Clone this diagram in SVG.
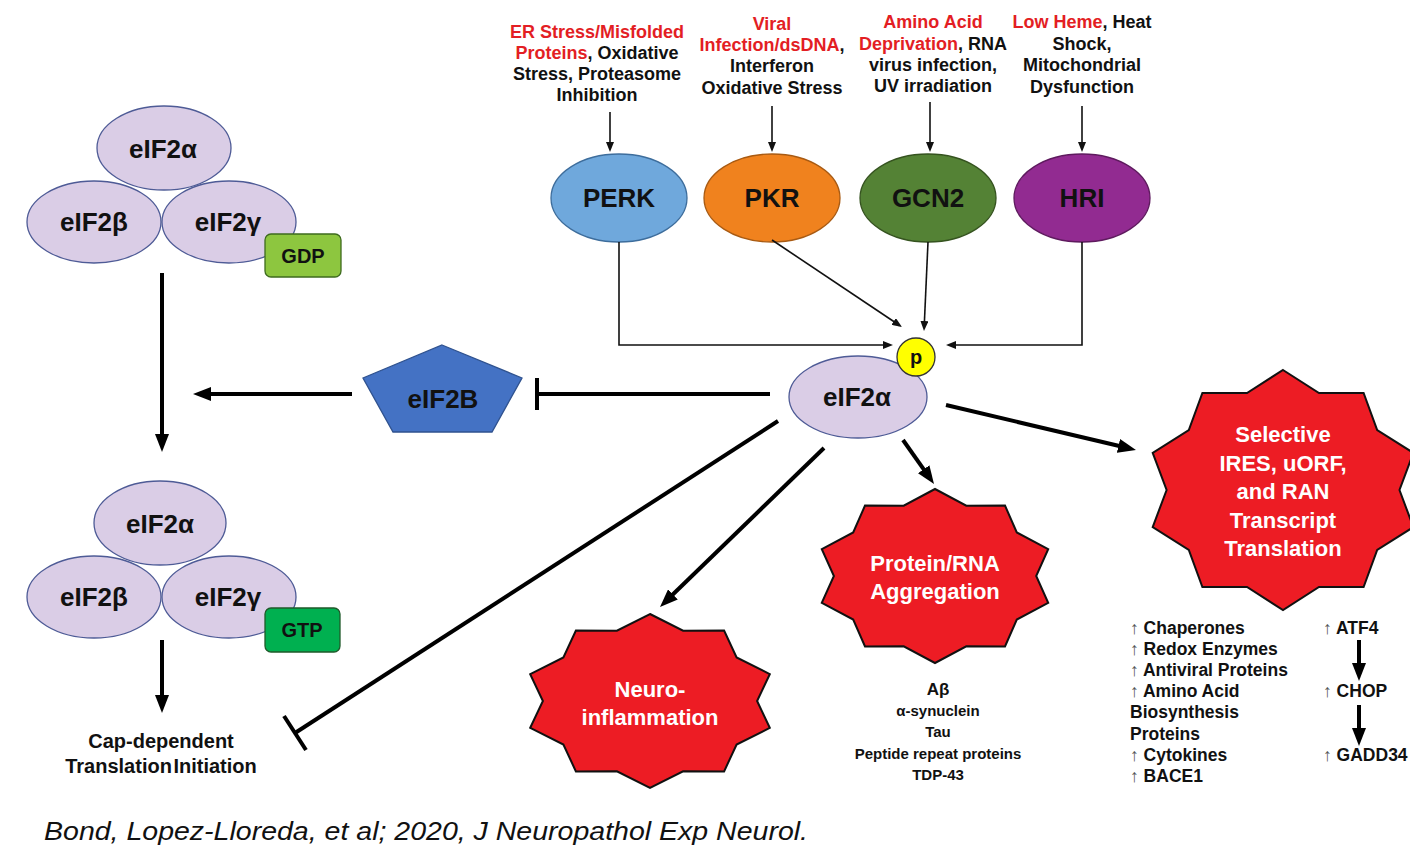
<svg xmlns="http://www.w3.org/2000/svg" width="1410" height="853" viewBox="0 0 1410 853">
<style>
text{font-family:"Liberation Sans",Arial,sans-serif;font-weight:bold;fill:#111;text-anchor:middle}
.top{font-size:18px}
.red{fill:#e31e24}
.sub{fill:#dacde6;stroke:#4e5b96;stroke-width:1.3}
.lbl{font-size:26px}
.star{fill:#ed1c24;stroke:#111;stroke-width:2;stroke-linejoin:miter}
.wt{fill:#fff;font-size:22px}
.thin{stroke:#111;stroke-width:1.6;fill:none}
.thick{stroke:#000;stroke-width:4;fill:none}
.lst{font-size:17.5px;text-anchor:start}
.up{font-weight:normal;fill:#555}
.agg{font-size:15px}
.cite{font-family:"Liberation Sans",Arial,sans-serif;font-style:italic;font-weight:normal;font-size:25px;text-anchor:start;fill:#111}
</style>
<defs>
<marker id="ah" viewBox="0 0 10 8" refX="1" refY="4" markerWidth="10" markerHeight="8" markerUnits="userSpaceOnUse" orient="auto"><path d="M0,0 L10,4 L0,8 z" fill="#111"/></marker>
<marker id="AH" viewBox="0 0 18 14" refX="2" refY="7" markerWidth="18" markerHeight="14" markerUnits="userSpaceOnUse" orient="auto"><path d="M0,0 L18,7 L0,14 z" fill="#000"/></marker>
</defs>
<rect width="1410" height="853" fill="#fff"/>

<g id="stress-perk">
<text class="top" x="597" y="38"><tspan class="red">ER Stress/Misfolded</tspan></text>
<text class="top" x="597" y="59"><tspan class="red">Proteins</tspan>, Oxidative</text>
<text class="top" x="597" y="80">Stress, Proteasome</text>
<text class="top" x="597" y="101">Inhibition</text>
</g>
<g id="stress-pkr">
<text class="top" x="772" y="30"><tspan class="red">Viral</tspan></text>
<text class="top" x="772" y="51"><tspan class="red">Infection/dsDNA</tspan>,</text>
<text class="top" x="772" y="72">Interferon</text>
<text class="top" x="772" y="94">Oxidative Stress</text>
</g>
<g id="stress-gcn2">
<text class="top" x="933" y="28"><tspan class="red">Amino Acid</tspan></text>
<text class="top" x="933" y="50"><tspan class="red">Deprivation</tspan>, RNA</text>
<text class="top" x="933" y="71">virus infection,</text>
<text class="top" x="933" y="92">UV irradiation</text>
</g>
<g id="stress-hri">
<text class="top" x="1082" y="28"><tspan class="red">Low Heme</tspan>, Heat</text>
<text class="top" x="1082" y="50">Shock,</text>
<text class="top" x="1082" y="71">Mitochondrial</text>
<text class="top" x="1082" y="93">Dysfunction</text>
</g>

<g id="perk"><ellipse cx="619" cy="198" rx="68" ry="44" fill="#6fa8dc" stroke="#3d6d9c" stroke-width="1.3"/><text class="lbl" x="619" y="207">PERK</text></g>
<g id="pkr"><ellipse cx="772" cy="198" rx="68" ry="44" fill="#f0821e" stroke="#a85a12" stroke-width="1.3"/><text class="lbl" x="772" y="207">PKR</text></g>
<g id="gcn2"><ellipse cx="928" cy="198" rx="68" ry="44" fill="#548235" stroke="#35531f" stroke-width="1.3"/><text class="lbl" x="928" y="207">GCN2</text></g>
<g id="hri"><ellipse cx="1082" cy="198" rx="68" ry="44" fill="#922b91" stroke="#5e1a5e" stroke-width="1.3"/><text class="lbl" x="1082" y="207">HRI</text></g>

<g id="complex-gdp">
<ellipse class="sub" cx="164" cy="148" rx="67" ry="42"/>
<ellipse class="sub" cx="94" cy="222" rx="67" ry="41"/>
<ellipse class="sub" cx="229" cy="222" rx="67" ry="41"/>
<text class="lbl" x="163" y="158">eIF2α</text>
<text class="lbl" x="94" y="231">eIF2β</text>
<text class="lbl" x="228" y="231">eIF2γ</text>
<rect x="265" y="234" width="76" height="43" rx="6" fill="#8dc63f" stroke="#3e6b1e" stroke-width="1.3"/>
<text x="303" y="263" style="font-size:20px">GDP</text>
</g>

<g id="complex-gtp">
<ellipse class="sub" cx="160" cy="523" rx="66" ry="42"/>
<ellipse class="sub" cx="94" cy="597" rx="67" ry="41"/>
<ellipse class="sub" cx="229" cy="597" rx="67" ry="41"/>
<text class="lbl" x="160" y="533">eIF2α</text>
<text class="lbl" x="94" y="606">eIF2β</text>
<text class="lbl" x="228" y="606">eIF2γ</text>
<rect x="265" y="608" width="75" height="44" rx="6" fill="#00b050" stroke="#1f5a2a" stroke-width="1.3"/>
<text x="302" y="637" style="font-size:20px">GTP</text>
</g>

<g id="cap">
<text x="161" y="748" style="font-size:20px">Cap-dependent</text>
<text x="161" y="773" style="font-size:20px;word-spacing:-4px">Translation Initiation</text>
</g>

<g id="eif2b">
<polygon points="442,345 522,378 492,432 393,432 363,378" fill="#4472c4" stroke="#2f528f" stroke-width="1.3"/>
<text class="lbl" x="443" y="408">eIF2B</text>
</g>

<g id="eif2a-p">
<ellipse class="sub" cx="858" cy="397" rx="69" ry="41"/>
<text class="lbl" x="857" y="406">eIF2α</text>
<circle cx="916" cy="357" r="19" fill="#ffff00" stroke="#333" stroke-width="1.3"/>
<text x="916" y="364" style="font-size:20px">p</text>
</g>

<g id="selective">
<polygon class="star" points="1283,370 1319,393 1363.6,392.9 1377.2,430 1413.3,452.9 1399.5,490 1413.3,527.1 1377.2,550 1363.6,587.1 1319,587 1283,610 1247,587 1202.4,587.1 1188.8,550 1152.7,527.1 1166.6,490 1152.7,452.9 1188.8,430 1202.4,392.9 1247,393"/>
<text class="wt" x="1283" y="442">Selective</text>
<text class="wt" x="1283" y="471">IRES, uORF,</text>
<text class="wt" x="1283" y="499">and RAN</text>
<text class="wt" x="1283" y="528">Transcript</text>
<text class="wt" x="1283" y="556">Translation</text>
</g>

<g id="aggregation">
<polygon class="star" points="935,489 966.3,505.7 1005,505.6 1016.8,532.5 1048.2,549.1 1036.2,576 1048.2,602.9 1016.8,619.5 1005,646.4 966.3,646.3 935,663 903.7,646.3 865,646.4 853.2,619.5 821.8,602.9 833.9,576 821.8,549.1 853.2,532.5 865,505.6 903.7,505.7"/>
<text class="wt" x="935" y="571">Protein/RNA</text>
<text class="wt" x="935" y="599">Aggregation</text>
</g>

<g id="neuroinflammation">
<polygon class="star" points="650,614 683.1,630.7 724.1,630.6 736.6,657.5 769.8,674.1 757.1,701 769.8,727.9 736.6,744.5 724.1,771.4 683.1,771.3 650,788 616.9,771.3 575.9,771.4 563.4,744.5 530.2,727.9 542.9,701 530.2,674.1 563.4,657.5 575.9,630.6 616.9,630.7"/>
<text class="wt" x="650" y="697">Neuro-</text>
<text class="wt" x="650" y="725">inflammation</text>
</g>

<g id="agg-list">
<text x="938" y="695" style="font-size:17px">Aβ</text>
<text class="agg" x="938" y="716">α-synuclein</text>
<text class="agg" x="938" y="737">Tau</text>
<text class="agg" x="938" y="759">Peptide repeat proteins</text>
<text class="agg" x="938" y="780">TDP-43</text>
</g>

<g id="target-list">
<text class="lst" x="1130" y="634"><tspan class="up">↑</tspan> Chaperones</text>
<text class="lst" x="1130" y="655"><tspan class="up">↑</tspan> Redox Enzymes</text>
<text class="lst" x="1130" y="676"><tspan class="up">↑</tspan> Antiviral Proteins</text>
<text class="lst" x="1130" y="697"><tspan class="up">↑</tspan> Amino Acid</text>
<text class="lst" x="1130" y="718">Biosynthesis</text>
<text class="lst" x="1130" y="740">Proteins</text>
<text class="lst" x="1130" y="761"><tspan class="up">↑</tspan> Cytokines</text>
<text class="lst" x="1130" y="782"><tspan class="up">↑</tspan> BACE1</text>
</g>
<g id="atf4"><text class="lst" x="1323" y="634"><tspan class="up">↑</tspan> ATF4</text></g>
<g id="chop"><text class="lst" x="1323" y="697"><tspan class="up">↑</tspan> CHOP</text></g>
<g id="gadd34"><text class="lst" x="1323" y="761"><tspan class="up">↑</tspan> GADD34</text></g>

<g id="connectors">
<line class="thin" x1="610" y1="112" x2="610" y2="143" marker-end="url(#ah)"/>
<line class="thin" x1="772" y1="106" x2="772" y2="143" marker-end="url(#ah)"/>
<line class="thin" x1="930" y1="102" x2="930" y2="143" marker-end="url(#ah)"/>
<line class="thin" x1="1082" y1="106" x2="1082" y2="143" marker-end="url(#ah)"/>
<path class="thin" d="M619,242 V345 H884" marker-end="url(#ah)"/>
<line class="thin" x1="772" y1="240" x2="894.5" y2="322" marker-end="url(#ah)"/>
<line class="thin" x1="928" y1="242" x2="924.4" y2="322" marker-end="url(#ah)"/>
<path class="thin" d="M1082,242 V345 H955" marker-end="url(#ah)"/>

<line class="thick" x1="162" y1="273" x2="162" y2="436" marker-end="url(#AH)"/>
<line class="thick" x1="352" y1="394" x2="209" y2="394" marker-end="url(#AH)"/>
<line class="thick" x1="162" y1="640" x2="162" y2="697" marker-end="url(#AH)"/>
<line class="thick" x1="770" y1="394" x2="537" y2="394"/>
<line class="thick" x1="537" y1="378" x2="537" y2="410"/>
<line class="thick" x1="778" y1="421" x2="295" y2="733"/>
<line class="thick" x1="284" y1="716" x2="306" y2="750"/>
<line class="thick" x1="824" y1="448" x2="671.5" y2="595.8" marker-end="url(#AH)"/>
<line class="thick" x1="903" y1="440" x2="924.8" y2="470.9" marker-end="url(#AH)"/>
<line class="thick" x1="946" y1="405" x2="1120.4" y2="446.3" marker-end="url(#AH)"/>
<line class="thick" x1="1359" y1="640" x2="1359" y2="665" marker-end="url(#AH)"/>
<line class="thick" x1="1359" y1="705" x2="1359" y2="730" marker-end="url(#AH)"/>
</g>

<text class="cite" x="44" y="840" textLength="764" lengthAdjust="spacingAndGlyphs">Bond, Lopez-Lloreda, et al; 2020, J Neuropathol Exp Neurol.</text>
</svg>
